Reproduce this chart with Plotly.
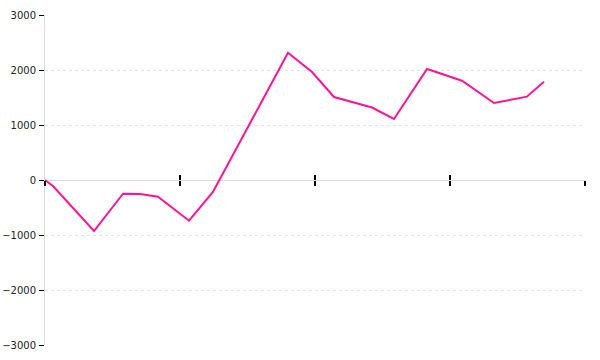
import plotly.graph_objects as go

# x positions in tick-interval units (ticks at 0,1,2,3,4)
x_vals = [0.0, 0.059, 0.363, 0.578, 0.704, 0.837, 1.067, 1.244, 1.8, 1.978,
          2.141, 2.422, 2.585, 2.830, 3.089, 3.326, 3.570, 3.696]
y_vals = [0, -109, -927, -249, -255, -304, -740, -218, 2315, 1964,
          1509, 1318, 1109, 2018, 1805, 1400, 1515, 1787]
y_ticks = [-3000, -2000, -1000, 0, 1000, 2000, 3000]
x_ticks = [0, 1, 2, 3, 4]

fig = go.Figure()
fig.add_trace(go.Scatter(x=x_vals, y=y_vals, mode="lines",
                         line=dict(color="#ff1493", width=2), showlegend=False,
                         hoverinfo="skip"))
fig.add_trace(go.Scatter(x=[x_ticks[0], x_ticks[-1]], y=[0, 0], mode="lines",
                         line=dict(color="rgba(0,0,0,0)", width=0), xaxis="x2",
                         showlegend=False, hoverinfo="skip"))

fig.update_layout(
    width=600, height=360,
    margin=dict(l=45, r=15, t=15, b=15, autoexpand=False),
    paper_bgcolor="white", plot_bgcolor="white",
    font=dict(family="DejaVu Sans", size=10, color="#222"),
    xaxis=dict(range=[0, 4], tickvals=x_ticks, showticklabels=False,
               ticks="inside", ticklen=5, tickcolor="black", tickwidth=1.5,
               showgrid=False, zeroline=False, showline=False,
               anchor="free", position=0.5, automargin=False),
    xaxis2=dict(range=[0, 4], tickvals=x_ticks, showticklabels=False,
                ticks="outside", ticklen=5, tickcolor="black", tickwidth=1.5,
                showgrid=False, zeroline=False, showline=False,
                overlaying="x", anchor="free", position=0.5, automargin=False),
    yaxis=dict(range=[-3000, 3000], tickvals=y_ticks,
               ticks="outside", ticklen=5, tickcolor="black", tickwidth=1,
               showgrid=True, gridcolor="#e3e3e3", griddash="dot", gridwidth=1,
               zeroline=True, zerolinecolor="#dddddd", zerolinewidth=1,
               showline=True, linecolor="#dddddd", linewidth=1,
               automargin=False,
               tickfont=dict(size=10, color="#222"), ticklabelstandoff=1),
)

fig.write_html("out.html")
